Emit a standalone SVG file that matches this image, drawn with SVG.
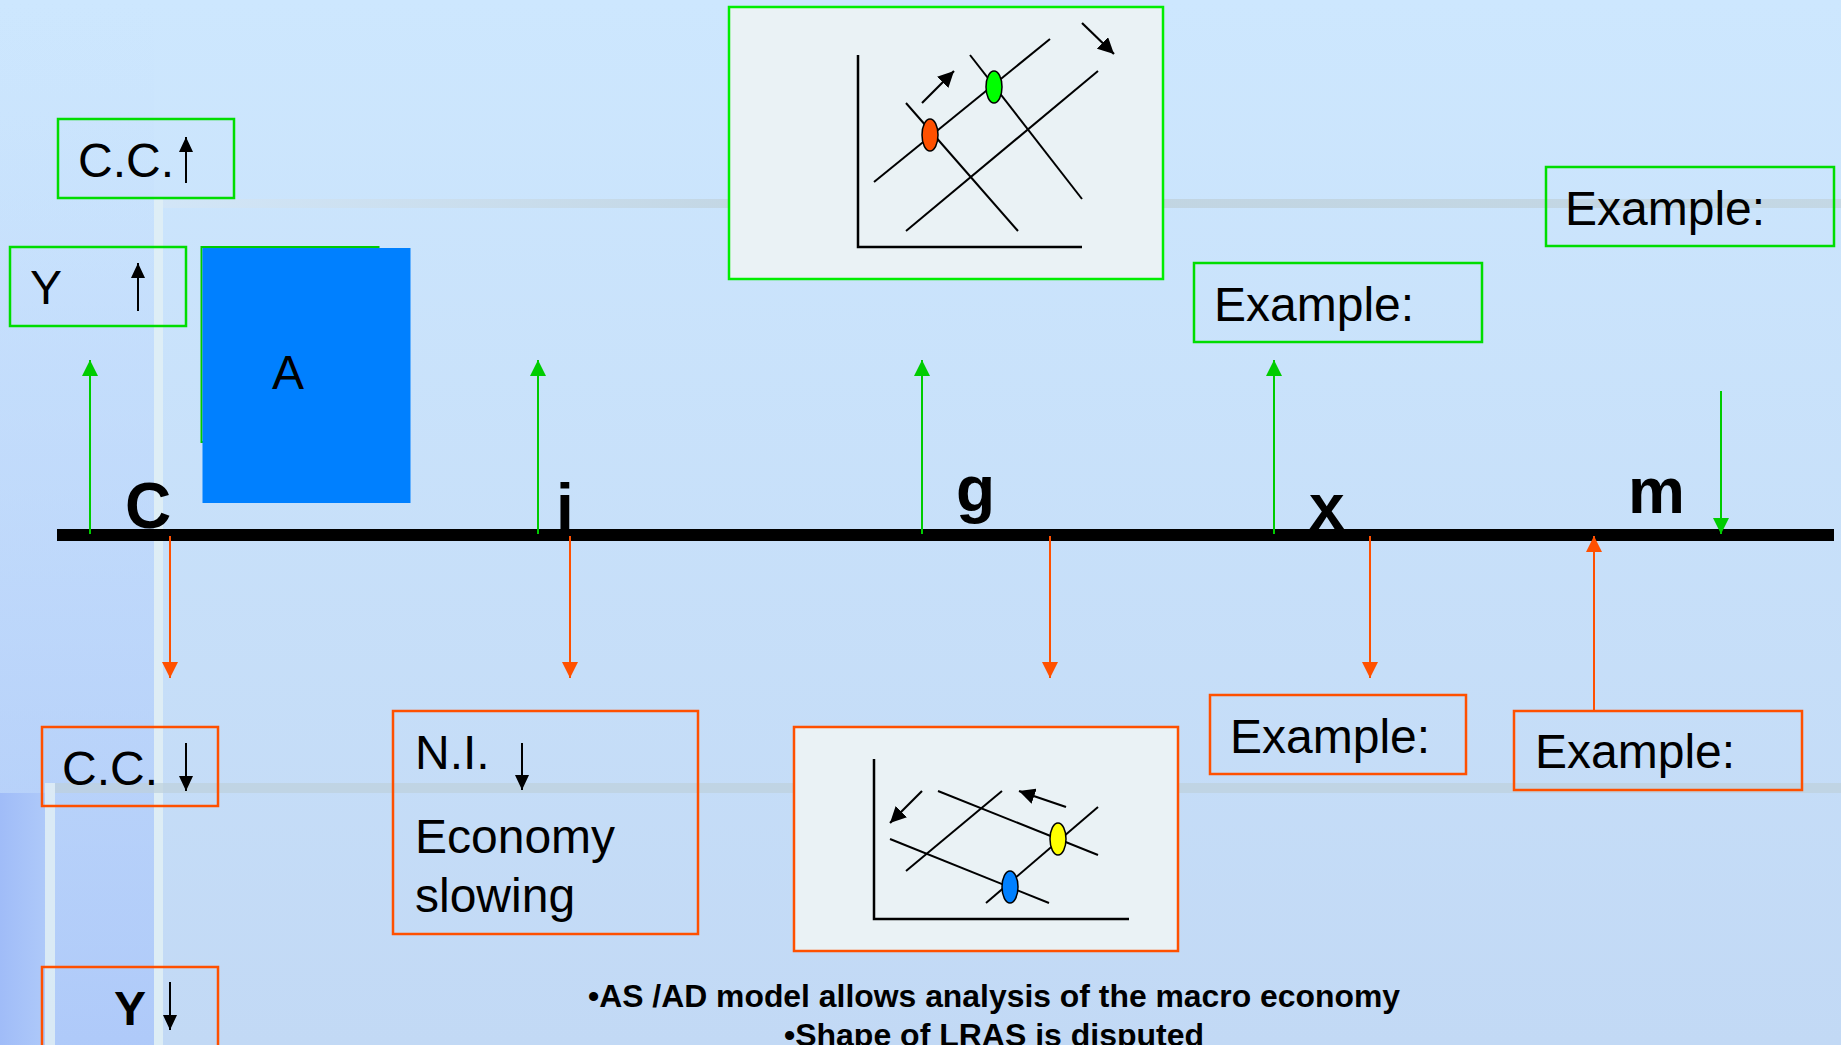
<svg xmlns="http://www.w3.org/2000/svg" width="1841" height="1045" viewBox="0 0 1841 1045">
<defs>
<linearGradient id="bg" x1="0" y1="0" x2="0" y2="1">
<stop offset="0" stop-color="#CDE7FE"/>
<stop offset="1" stop-color="#C2D9F5"/>
</linearGradient>
<linearGradient id="leftShade" x1="0" y1="0" x2="0" y2="1">
<stop offset="0" stop-color="#C8E2FE" stop-opacity="0"/>
<stop offset="0.3" stop-color="#C0DAFD" stop-opacity="0.6"/>
<stop offset="1" stop-color="#AAC6FA"/>
</linearGradient>
<linearGradient id="cornerShade" x1="0" y1="0" x2="1" y2="0">
<stop offset="0" stop-color="#A0BCF8"/>
<stop offset="1" stop-color="#AEC9F9"/>
</linearGradient>
<linearGradient id="barH" x1="0" y1="0" x2="1" y2="0">
<stop offset="0" stop-color="#D4E6F6"/>
<stop offset="0.4" stop-color="#BED0DA"/>
<stop offset="1" stop-color="#C2D4DE"/>
</linearGradient>
<marker id="gArr" viewBox="0 0 16 16" refX="16" refY="8" markerWidth="16" markerHeight="16" markerUnits="userSpaceOnUse" orient="auto">
<path d="M0,0 L16,8 L0,16 z" fill="#00CC00"/>
</marker>
<marker id="rArr" viewBox="0 0 16 16" refX="16" refY="8" markerWidth="16" markerHeight="16" markerUnits="userSpaceOnUse" orient="auto">
<path d="M0,0 L16,8 L0,16 z" fill="#FF5000"/>
</marker>
<marker id="kArr" viewBox="0 0 15 14" refX="15" refY="7" markerWidth="15" markerHeight="14" markerUnits="userSpaceOnUse" orient="auto">
<path d="M0,0 L15,7 L0,14 z" fill="#000"/>
</marker>
<marker id="kArrBig" viewBox="0 0 16 16" refX="16" refY="8" markerWidth="16" markerHeight="16" markerUnits="userSpaceOnUse" orient="auto">
<path d="M0,0 L16,8 L0,16 z" fill="#000"/>
</marker>
<style>
.t{font-family:"Liberation Sans",Arial,sans-serif;font-size:48px;fill:#000}
.lbl{font-family:"Liberation Sans",Arial,sans-serif;font-size:64px;font-weight:bold;fill:#000}
.note{font-family:"Liberation Sans",Arial,sans-serif;font-size:31px;font-weight:bold;fill:#000}
.gbox{fill:none;stroke:#00DD00;stroke-width:2.5}
.rbox{fill:none;stroke:#FF5000;stroke-width:2.5}
.chart{fill:#EAF2F5}
.ga{stroke:#00CC00;stroke-width:2;fill:none;marker-end:url(#gArr)}
.ra{stroke:#FF5000;stroke-width:2;fill:none;marker-end:url(#rArr)}
.ka{stroke:#000;stroke-width:2;fill:none;marker-end:url(#kArr)}
.kb{stroke:#000;stroke-width:2.2;fill:none;marker-end:url(#kArrBig)}
.cl{stroke:#000;stroke-width:2;fill:none}
.ax{stroke:#000;stroke-width:2.5;fill:none}
.dot{stroke:#000;stroke-width:1.5}
</style>
</defs>

<g id="background">
<rect x="0" y="0" width="1841" height="1045" fill="url(#bg)"/>
<rect x="0" y="0" width="154" height="1045" fill="url(#leftShade)" opacity="0.8"/>
<rect x="0" y="793" width="45" height="252" fill="url(#cornerShade)"/>
<rect x="163" y="199" width="1678" height="9" fill="url(#barH)" opacity="0.8"/>
<rect x="154" y="199" width="9" height="846" fill="#E2F0F4" opacity="0.85"/>
<rect x="55" y="783" width="1786" height="10" fill="#BED0DC" opacity="0.7"/>
<rect x="45" y="783" width="10" height="262" fill="#E0EEF4" opacity="0.85"/>
</g>

<g id="axis-line">
<rect x="57" y="529" width="1777" height="12" fill="#000"/>
<text class="lbl" x="125" y="528">C</text>
<text class="lbl" x="556" y="529">i</text>
<text class="lbl" x="956" y="511">g</text>
<text class="lbl" x="1309" y="529">x</text>
<text class="lbl" x="1628" y="513">m</text>
</g>

<g id="connectors">
<line class="ga" x1="90" y1="534" x2="90" y2="360"/>
<line class="ga" x1="538" y1="534" x2="538" y2="360"/>
<line class="ga" x1="922" y1="534" x2="922" y2="360"/>
<line class="ga" x1="1274" y1="534" x2="1274" y2="360"/>
<line class="ga" x1="1721" y1="391" x2="1721" y2="534"/>
<line class="ra" x1="170" y1="536" x2="170" y2="678"/>
<line class="ra" x1="570" y1="536" x2="570" y2="678"/>
<line class="ra" x1="1050" y1="536" x2="1050" y2="678"/>
<line class="ra" x1="1370" y1="536" x2="1370" y2="678"/>
<line class="ra" x1="1594" y1="711" x2="1594" y2="536"/>
</g>

<g id="node-cc-up">
<rect class="gbox" x="58" y="119" width="176" height="79"/>
<text class="t" x="78" y="177">C.C.</text>
<line class="ka" x1="186" y1="183" x2="186" y2="137"/>
</g>

<g id="node-y-up">
<rect class="gbox" x="10" y="247" width="176" height="79"/>
<text class="t" x="30" y="304">Y</text>
<line class="ka" x1="138" y1="311" x2="138" y2="263"/>
</g>

<g id="node-a">
<rect x="201.5" y="247" width="177" height="195" fill="none" stroke="#00CC00" stroke-width="2"/>
<rect x="202.5" y="248" width="208" height="255" fill="#0080FF"/>
<text class="t" x="288" y="389" text-anchor="middle">A</text>
</g>

<g id="node-chart-up">
<rect class="chart" x="729" y="7" width="434" height="272" stroke="#00EE00" stroke-width="2.5"/>
<polyline class="ax" points="858,55 858,247 1082,247"/>
<line class="cl" x1="874" y1="182" x2="1050" y2="39"/>
<line class="cl" x1="906" y1="231" x2="1098" y2="71"/>
<line class="cl" x1="906" y1="103" x2="1018" y2="231"/>
<line class="cl" x1="970" y1="55" x2="1082" y2="199"/>
<ellipse class="dot" cx="930" cy="135" rx="8" ry="16" fill="#FF5000"/>
<ellipse class="dot" cx="994" cy="87" rx="8" ry="16" fill="#00FF00"/>
<line class="kb" x1="922" y1="103" x2="954" y2="71"/>
<line class="kb" x1="1082" y1="23" x2="1114" y2="54"/>
</g>

<g id="node-example-g1">
<rect class="gbox" x="1194" y="263" width="288" height="79"/>
<text class="t" x="1214" y="321">Example:</text>
</g>

<g id="node-example-g2">
<rect class="gbox" x="1546" y="167" width="288" height="79"/>
<text class="t" x="1565" y="225">Example:</text>
</g>

<g id="node-cc-down">
<rect class="rbox" x="42" y="727" width="176" height="79"/>
<text class="t" x="62" y="785">C.C.</text>
<line class="ka" x1="186" y1="743" x2="186" y2="791"/>
</g>

<g id="node-y-down">
<rect class="rbox" x="42" y="967" width="176" height="90"/>
<text class="t" x="114" y="1025" font-weight="bold">Y</text>
<line class="ka" x1="170" y1="982" x2="170" y2="1030"/>
</g>

<g id="node-ni">
<rect class="rbox" x="393" y="711" width="305" height="223"/>
<text class="t" x="415" y="769">N.I.</text>
<line class="ka" x1="522" y1="743" x2="522" y2="790"/>
<text class="t" x="415" y="853">Economy</text>
<text class="t" x="415" y="912">slowing</text>
</g>

<g id="node-chart-down">
<rect class="chart" x="794" y="727" width="384" height="224" stroke="#FF5000" stroke-width="2.5"/>
<polyline class="ax" points="874,759 874,919 1129,919"/>
<line class="cl" x1="938" y1="791" x2="1098" y2="855"/>
<line class="cl" x1="890" y1="839" x2="1049" y2="903"/>
<line class="cl" x1="906" y1="871" x2="1002" y2="791"/>
<line class="cl" x1="986" y1="903" x2="1098" y2="807"/>
<ellipse class="dot" cx="1058" cy="839" rx="8" ry="16" fill="#FFFF00"/>
<ellipse class="dot" cx="1010" cy="887" rx="8" ry="16" fill="#0080FF"/>
<line class="kb" x1="922" y1="791" x2="890" y2="823"/>
<line class="kb" x1="1066" y1="807" x2="1019" y2="791"/>
</g>

<g id="node-example-r1">
<rect class="rbox" x="1210" y="695" width="256" height="79"/>
<text class="t" x="1230" y="753">Example:</text>
</g>

<g id="node-example-r2">
<rect class="rbox" x="1514" y="711" width="288" height="79"/>
<text class="t" x="1535" y="768">Example:</text>
</g>

<g id="notes">
<text class="note" x="994" y="1007" text-anchor="middle" textLength="812" lengthAdjust="spacingAndGlyphs">•AS /AD model allows analysis of the macro economy</text>
<text class="note" x="994" y="1046" text-anchor="middle" textLength="420" lengthAdjust="spacingAndGlyphs">•Shape of LRAS is disputed</text>
</g>
</svg>
